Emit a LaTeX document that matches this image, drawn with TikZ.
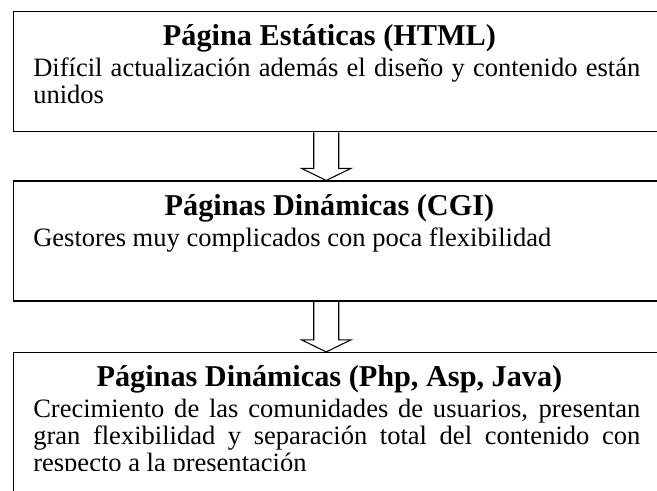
\documentclass[tikz,border=0pt]{standalone}
\usepackage{fontspec}
\setmainfont{Liberation Serif}
\usetikzlibrary{positioning}

\newcommand{\titulo}{\fontsize{22.7pt}{26pt}\selectfont\bfseries}
\newcommand{\cuerpo}{\fontsize{19.9pt}{20.25pt}\selectfont}

\begin{document}
\begin{tikzpicture}[
        x=0.75pt, y=0.75pt,
        caja/.style={
            rectangle,
            draw=black,
            line width=1.1pt,
            minimum width=485.25pt,
            inner sep=0pt
        },
        texto/.style={
            anchor=base west,
            inner sep=0pt,
            align=left
        },
        flecha/.style={
            draw=black,
            line width=0.8pt,
            line join=miter
        }
    ]
    \useasboundingbox (0,0) rectangle (657,-491);
    \clip (0,0) rectangle (657,-491);

    \node (estaticas) [caja, minimum height=90pt, anchor=north west] at (13,-11) {};
    \node (cgi) [caja, minimum height=90pt, below=36pt of estaticas] {};
    \node (php) [caja, minimum height=105pt, below=37.5pt of cgi] {};

    \node (estaticasTxt) [texto] at ([shift={(20,-35)}]estaticas.north west) {\parbox[t]{455.25pt}{\hyphenpenalty=10000
        {\centering\titulo Página Estáticas (HTML)\hspace*{11pt}\par}\vspace{3pt}
        \cuerpo Difícil actualización además el diseño y contenido están\linebreak unidos}};
    \node (cgiTxt) [texto] at ([shift={(20,-35)}]cgi.north west) {\parbox[t]{455.25pt}{\hyphenpenalty=10000
        {\centering\titulo Páginas Dinámicas (CGI)\hspace*{11pt}\par}\vspace{3pt}
        \cuerpo Gestores muy complicados con poca flexibilidad}};
    \begin{scope}
        \clip (0,-349) rectangle (657,-471);
        \node (phpTxt) [texto] at ([shift={(20,-35)}]php.north west) {\parbox[t]{455.25pt}{\hyphenpenalty=10000
            {\centering\titulo Páginas Dinámicas (Php, Asp, Java)\hspace*{11pt}\par}\vspace{3pt}
            \cuerpo Crecimiento de las comunidades de usuarios, presentan\linebreak gran flexibilidad y separación total del contenido con\linebreak respecto a la presentación}};
    \end{scope}

    \coordinate (f1) at ([xshift=-8.25pt]estaticas.south);
    \coordinate (f2) at ([xshift=-8.25pt]cgi.south);
    \draw[flecha] (f1) ++(-12.5,0) -- ++(0,-36) -- ++(-12,0) -- (f1 |- cgi.north) -- ++(24.5,12) -- ++(-12,0) -- ++(0,36);
    \draw[flecha] (f2) ++(-12.5,0) -- ++(0,-38) -- ++(-12,0) -- (f2 |- php.north) -- ++(24.5,12) -- ++(-12,0) -- ++(0,38);
\end{tikzpicture}
\end{document}
